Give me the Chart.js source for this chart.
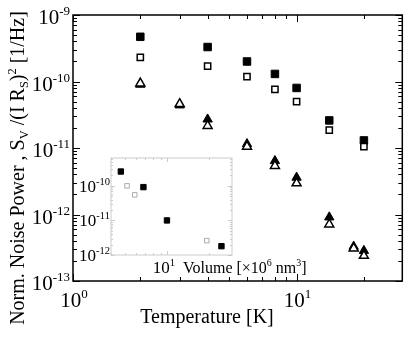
<!DOCTYPE html>
<html>
<head>
<meta charset="utf-8">
<script src="https://cdn.jsdelivr.net/npm/chart.js@4"></script>
<style>
  body { margin: 0; background: #fff; }
  .wrap { position: relative; width: 409px; height: 342px; }
  #main { position: absolute; left: 0; top: 0; }
  #inset { position: absolute; left: 76px; top: 150px; }
</style>
</head>
<body>
<div class="wrap">
  <canvas id="main" width="409" height="342"></canvas>
  <canvas id="inset" width="240" height="128"></canvas>
</div>
<script>
// 메인 그래프 데이터 (온도 K, 정규화 노이즈)
const temps = [2, 4, 6, 8, 10, 14, 20]
const sqFilled = [4.7e-10, 3.3e-10, 2.0e-10, 1.3e-10, 8.0e-11, 2.6e-11, 1.3e-11]
const sqOpen = [2.3e-10, 1.7e-10, 1.18e-10, 7.6e-11, 5.0e-11, 1.85e-11, 1.05e-11]
const triTemps = [2, 3, 4, 6, 8, 10, 14, 18, 20]
const triFilled = [9.0e-11, 4.4e-11, 2.7e-11, 1.15e-11, 6.4e-12, 3.6e-12, 9.1e-13, 3.3e-13, 2.85e-13]
const triOpen = [9.4e-11, 4.6e-11, 2.15e-11, 1.05e-11, 5.4e-12, 2.95e-12, 7.1e-13, 3.1e-13, 2.4e-13]

// 인셋 데이터 (Volume x10^6 nm^3)
const volFilled = [4.7, 6.8, 10, 24.4]
const insetFilled = [2.6e-10, 9.2e-11, 1.0e-11, 1.8e-12]
const volOpen = [5.2, 5.9, 19.2]
const insetOpen = [1.0e-10, 5.5e-11, 2.6e-12]

// 눈금 라벨 (10의 지수)
const mainXTicks = [0, 1]
const mainYTicks = [-9, -10, -11, -12, -13]
const insetXTicks = [1]
const insetYTicks = [-10, -11, -12]

const SERIF = '"Liberation Serif", "Times New Roman", serif'

function toPoints(xs, ys) {
  return xs.map((x, i) => ({ x: x, y: ys[i] }))
}

// 위첨자/아래첨자 글자 그리기
function partFont(size, kind) {
  const s = kind === 'n' ? size : size * 0.62
  return s + 'px ' + SERIF
}
function richWidth(ctx, parts, size) {
  let w = 0
  parts.forEach(p => { ctx.font = partFont(size, p[1]); w += ctx.measureText(p[0]).width })
  return w
}
function drawRich(ctx, parts, x, y, size, align) {
  const w = richWidth(ctx, parts, size)
  let cx = align === 'center' ? x - w / 2 : align === 'right' ? x - w : x
  ctx.textAlign = 'left'
  ctx.textBaseline = 'alphabetic'
  parts.forEach(p => {
    ctx.font = partFont(size, p[1])
    let dy = 0
    if (p[1] === 'sup') dy = -size * 0.42
    if (p[1] === 'sub') dy = size * 0.22
    ctx.fillText(p[0], cx, y + dy)
    cx += ctx.measureText(p[0]).width
  })
}
function powLabel(e) {
  return [['10', 'n'], [String(e), 'sup']]
}

// 로그 눈금 위치
function logTicks(min, max) {
  const out = []
  for (let d = Math.floor(Math.log10(min)); d <= Math.ceil(Math.log10(max)); d++) {
    for (let m = 1; m < 10; m++) {
      const v = m * Math.pow(10, d)
      if (v >= min * 0.999 && v <= max * 1.001) out.push({ v: v, major: m === 1 })
    }
  }
  return out
}

// 테두리 + 안쪽 눈금 + 라벨
function framePlugin(opt) {
  return {
    id: 'frame',
    afterDraw(chart) {
      const ctx = chart.ctx
      const a = chart.chartArea
      const x = chart.scales.x
      const y = chart.scales.y
      ctx.save()
      ctx.strokeStyle = opt.color
      ctx.lineWidth = 1
      ctx.beginPath()
      logTicks(x.min, x.max).forEach(t => {
        const px = Math.round(x.getPixelForValue(t.v)) + 0.5
        const len = t.major ? opt.major : opt.minor
        ctx.moveTo(px, a.bottom); ctx.lineTo(px, a.bottom - len)
        ctx.moveTo(px, a.top); ctx.lineTo(px, a.top + len)
      })
      logTicks(y.min, y.max).forEach(t => {
        const py = Math.round(y.getPixelForValue(t.v)) + 0.5
        const len = t.major ? opt.major : opt.minor
        ctx.moveTo(a.left, py); ctx.lineTo(a.left + len, py)
        ctx.moveTo(a.right, py); ctx.lineTo(a.right - len, py)
      })
      ctx.stroke()
      ctx.lineWidth = opt.lineWidth
      ctx.strokeRect(a.left, a.top, a.right - a.left, a.bottom - a.top)

      ctx.fillStyle = '#000'
      opt.xLabels.forEach(e => {
        drawRich(ctx, powLabel(e), x.getPixelForValue(Math.pow(10, e)) + opt.xShift, a.bottom + opt.xDy, opt.size, 'center')
      })
      opt.yLabels.forEach(e => {
        drawRich(ctx, powLabel(e), a.left - opt.yGap, y.getPixelForValue(Math.pow(10, e)) + opt.yDy, opt.size, 'right')
      })
      if (opt.titles) opt.titles(ctx, chart)
      ctx.restore()
    }
  }
}

function logScale(min, max, size) {
  return {
    type: 'logarithmic',
    min: min,
    max: max,
    grid: { display: false },
    border: { display: false },
    ticks: { display: false },
    afterFit(s) { if (s.axis === 'x') s.height = size; else s.width = size }
  }
}

// 메인 그래프
const mainChart = new Chart(document.getElementById('main'), {
  type: 'scatter',
  data: {
    datasets: [{
      data: toPoints(temps, sqFilled),
      pointStyle: 'rect', pointRadius: 5.3,
      backgroundColor: '#000', borderColor: '#000', borderWidth: 1,
      order: 3,
    }, {
      data: toPoints(temps, sqOpen),
      pointStyle: 'rect', pointRadius: 4.4,
      backgroundColor: '#fff', borderColor: '#000', borderWidth: 1.5,
      order: 2,
    }, {
      data: toPoints(triTemps, triFilled),
      pointStyle: 'triangle', pointRadius: 5.4,
      backgroundColor: '#000', borderColor: '#000', borderWidth: 1,
      order: 1,
    }, {
      data: toPoints(triTemps, triOpen),
      pointStyle: 'triangle', pointRadius: 5.2,
      backgroundColor: '#fff', borderColor: '#000', borderWidth: 1.5,
      order: 0,
    }]
  },
  options: {
    responsive: false,
    animation: false,
    layout: { padding: { top: 15, right: 6 } },
    plugins: { legend: { display: false }, tooltip: { enabled: false } },
    scales: {
      x: logScale(1, 29.7, 61),
      y: logScale(1e-13, 1e-9, 73),
    }
  },
  plugins: [framePlugin({
    color: '#000', lineWidth: 1.5, major: 7, minor: 4,
    size: 21, xLabels: mainXTicks, yLabels: mainYTicks,
    xShift: 1, xDy: 26, yGap: 3, yDy: 9,
    titles(ctx, chart) {
      drawRich(ctx, [['Temperature [K]', 'n']], 207, 323, 20, 'center')
      ctx.save()
      ctx.translate(24, 168)
      ctx.rotate(-Math.PI / 2)
      drawRich(ctx, [['Norm. Noise Power , S', 'n'], ['V', 'sub'], [' /(I R', 'n'], ['S', 'sub'], [')', 'n'], ['2', 'sup'], [' [1/Hz]', 'n']], 0, 0, 20, 'center')
      ctx.restore()
    }
  })]
})

// 인셋 그래프
const insetChart = new Chart(document.getElementById('inset'), {
  type: 'scatter',
  data: {
    datasets: [{
      data: toPoints(volFilled, insetFilled),
      pointStyle: 'rect', pointRadius: 3.8,
      backgroundColor: '#000', borderColor: '#000', borderWidth: 1,
    }, {
      data: toPoints(volOpen, insetOpen),
      pointStyle: 'rect', pointRadius: 3.2,
      backgroundColor: '#fff', borderColor: '#aaa', borderWidth: 1,
    }]
  },
  options: {
    responsive: false,
    animation: false,
    layout: { padding: { top: 8, right: 84 } },
    plugins: { legend: { display: false }, tooltip: { enabled: false } },
    scales: {
      x: logScale(4, 29, 23),
      y: logScale(1e-12, 6.4e-10, 35),
    }
  },
  plugins: [framePlugin({
    color: '#ccc', lineWidth: 1, major: 4, minor: 2,
    size: 17, xLabels: insetXTicks, yLabels: insetYTicks,
    xShift: -3, xDy: 18, yGap: 1, yDy: 6,
    titles(ctx, chart) {
      drawRich(ctx, [['Volume [×10', 'n'], ['6', 'sup'], [' nm', 'n'], ['3', 'sup'], [']', 'n']], 107, 123, 16, 'left')
    }
  })]
})
</script>
</body>
</html>
